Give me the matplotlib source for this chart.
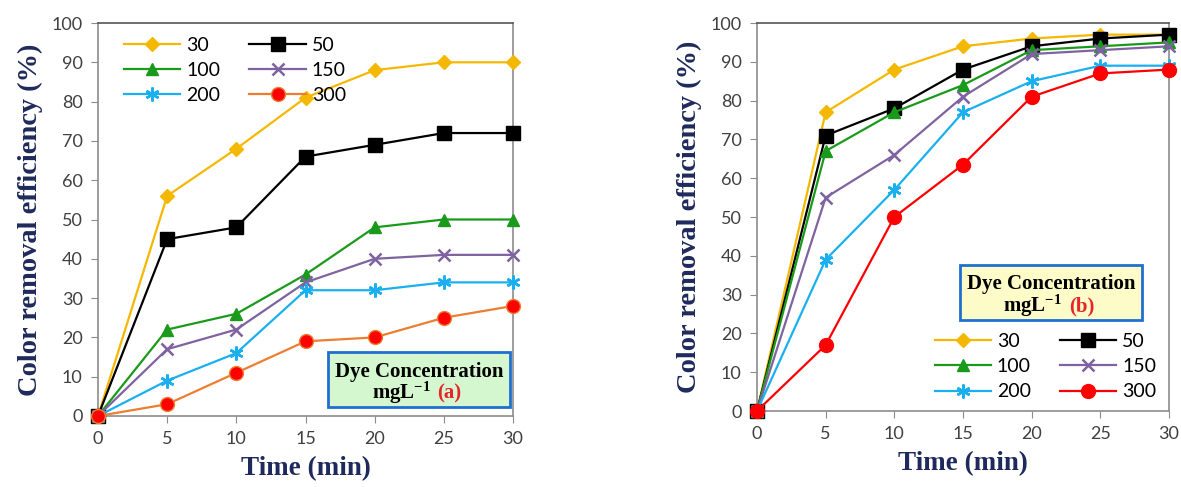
import matplotlib
matplotlib.use("Agg")
import matplotlib.pyplot as plt
from matplotlib.patches import Rectangle

W, H = 1181, 487

time_min = [0, 5, 10, 15, 20, 25, 30]
concentrations = ["30", "50", "100", "150", "200", "300"]

# panel (a)
a_30 = [0, 56, 68, 81, 88, 90, 90]
a_50 = [0, 45, 48, 66, 69, 72, 72]
a_100 = [0, 22, 26, 36, 48, 50, 50]
a_150 = [0, 17, 22, 34, 40, 41, 41]
a_200 = [0, 9, 16, 32, 32, 34, 34]
a_300 = [0, 3, 11, 19, 20, 25, 28]

# panel (b)
b_30 = [0, 77, 88, 94, 96, 97, 97]
b_50 = [0, 71, 78, 88, 94, 96, 97]
b_100 = [0, 67, 77, 84, 93, 94, 95]
b_150 = [0, 55, 66, 81, 92, 93, 94]
b_200 = [0, 39, 57, 77, 85, 89, 89]
b_300 = [0, 17, 50, 63.5, 81, 87, 88]

plt.rcParams['mathtext.fontset'] = 'custom'
plt.rcParams['mathtext.rm'] = 'Liberation Serif'
plt.rcParams['mathtext.bf'] = 'Liberation Serif:bold'

fig = plt.figure(figsize=(W / 100, H / 100), dpi=100)

def ax_rect(x0, y0, x1, y1):
    return [x0 / W, 1 - y1 / H, (x1 - x0) / W, (y1 - y0) / H]

axA = fig.add_axes(ax_rect(98, 23, 513, 416))
axB = fig.add_axes(ax_rect(757, 23, 1169, 411))

navy = "#1f2a5c"
tick_color = "#404040"
spine_color = "#8c8c8c"

def style(ax, series, c300_line, c300_face, c300_edge):
    colors = ["#f5b800", "#000000", "#1a9a1a", "#7f62a0", "#1ab0f0", c300_line]
    markers = ["D", "s", "^", "x", (6, 2, 0), "o"]
    msizes = [7, 10, 9, 8, 10, 10]
    handles = []
    for i, (lab, vals) in enumerate(zip(concentrations, series)):
        kw = dict(color=colors[i], marker=markers[i], markersize=msizes[i], lw=1.6,
                  label=lab)
        if markers[i] in ("x", (6, 2, 0)):
            kw.update(markeredgewidth=1.8)
        if i == 5:
            kw.update(markerfacecolor=c300_face, markeredgecolor=c300_edge)
        h, = ax.plot(time_min, vals, clip_on=False, zorder=3, **kw)
        handles.append(h)
    ax.set_xlim(0, 30)
    ax.set_ylim(0, 100)
    ax.set_xticks(time_min)
    ax.set_yticks(range(0, 101, 10))
    ax.tick_params(direction="out", length=5, color=spine_color, labelsize=13,
                   labelcolor=tick_color, pad=6)
    for lbl in ax.get_xticklabels() + ax.get_yticklabels():
        lbl.set_family("Lato")
    for s in ax.spines.values():
        s.set_color(spine_color)
        s.set_linewidth(1.2)
    ax.spines["top"].set_color("#555555")
    ax.set_ylabel("Color removal efficiency (%)", fontsize=20.5, fontweight="bold",
                  family="Liberation Serif", color=navy, labelpad=6)
    ax.set_xlabel("Time (min)", fontsize=19.5, fontweight="bold",
                  family="Liberation Serif", color=navy, labelpad=6)
    order = [0, 2, 4, 1, 3, 5]
    return [handles[k] for k in order]

hA = style(axA, [a_30, a_50, a_100, a_150, a_200, a_300], "#ed7d31", "#ff0000", "#ed7d31")
hB = style(axB, [b_30, b_50, b_100, b_150, b_200, b_300], "#ff0000", "#ff0000", "#ff0000")

legkw = dict(ncol=2, frameon=False, handlelength=2.9, columnspacing=1.5,
             handletextpad=0.3, labelspacing=0.42, prop={"family": "Lato", "size": 14})
axA.legend(handles=hA, loc="upper left", bbox_to_anchor=(0.03, 1.0),
           borderaxespad=0.3, **legkw)
axB.legend(handles=hB, loc="lower right", bbox_to_anchor=(0.995, 0.0),
           borderaxespad=0.15, **legkw)

def px(x, y):
    return x / W, 1 - y / H

def info_box(x0, y0, x1, y1, face, tag, l1y, l2y, mx, tx):
    fx, fy = px(x0, y1)
    rect = Rectangle((fx, fy), (x1 - x0) / W, (y1 - y0) / H, transform=fig.transFigure,
                     facecolor=face, edgecolor="#1f6fd0", linewidth=2, zorder=10)
    fig.add_artist(rect)
    cx = (x0 + x1) / 2
    fig.text(*px(cx, l1y), "Dye Concentration", ha="center", va="center",
             family="Liberation Serif", fontweight="bold", fontsize=15, zorder=11)
    fig.text(*px(mx, l2y), r"$\mathbf{mgL^{-1}}$", ha="right", va="center",
             fontsize=15, zorder=11)
    fig.text(*px(tx, l2y), tag, ha="left", va="center", color="#e8242a",
             family="Liberation Serif", fontweight="bold", fontsize=15, zorder=11)

info_box(328, 352, 510, 407, "#d4f7d0", "(a)", 372, 393, 431, 437)
info_box(960, 265, 1142, 320, "#fdfcc8", "(b)", 284, 306, 1062, 1069)

fig.savefig("out.png", dpi=100, facecolor="white")
